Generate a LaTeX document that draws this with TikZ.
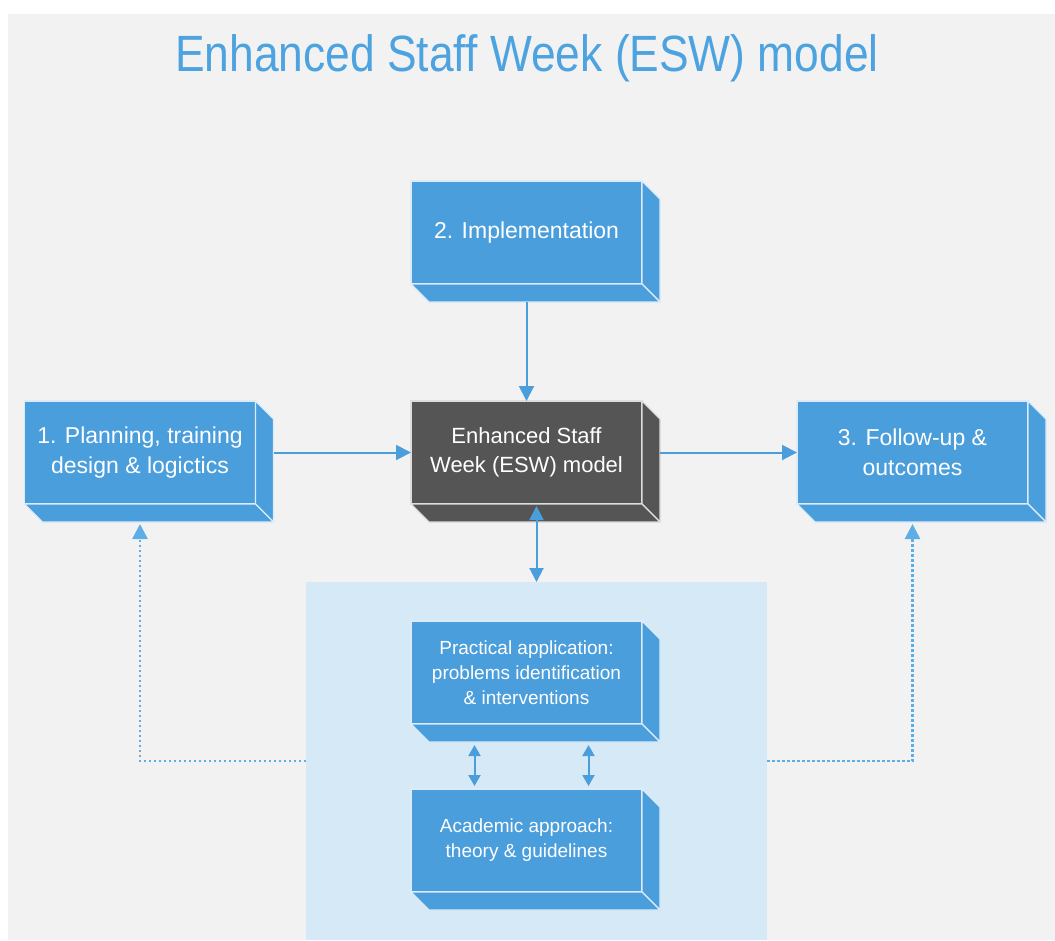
\documentclass[tikz,border=0pt]{standalone}
\usepackage{fontspec}
\setmainfont{Liberation Sans}
\newfontfamily\titlefont[FakeStretch=0.87]{Liberation Sans}
\usetikzlibrary{arrows.meta}

\definecolor{eswblue}{HTML}{4A9EDC}
\definecolor{eswdark}{HTML}{555555}
\definecolor{eswback}{HTML}{F2F2F2}
\definecolor{eswpanel}{HTML}{D6E9F7}
\definecolor{eswtitle}{HTML}{4DA3E0}
\definecolor{eswdots}{HTML}{5DAEE6}

\newcommand{\topfont}{\fontsize{23}{29.5}\selectfont}
\newcommand{\midfont}{\fontsize{22}{29}\selectfont}
\newcommand{\lowfont}{\fontsize{19}{25}\selectfont}

\tikzset{
    slabface/.style={rectangle, fill=#1, draw=white!80!#1, line width=1.2pt,
        minimum width=231pt, minimum height=103pt, inner sep=0pt, outer sep=0pt,
        text=white, align=center},
    slabside/.style={fill=#1, draw=white!80!#1, line width=1.2pt, line join=round},
    link/.style={draw=eswblue, line width=2pt, -{Triangle[length=15pt, width=15pt]}},
    duo/.style={draw=eswblue, line width=2pt,
        {Triangle[length=14pt, width=14pt]}-{Triangle[length=14pt, width=14pt]}},
    feedback/.style={draw=eswdots, line width=2.5pt, dash pattern=on 2.5pt off 2.5pt,
        -{Triangle[length=15pt, width=15pt]}}
}

% A slab: front face with its text, then the right and bottom faces
\newcommand{\slab}[5][eswblue]{
    \node[slabface=#1, font=#4] (#2) at (#3) {#5};
    \filldraw[slabside=#1] (#2.north east) -- ([shift={(18,18)}]#2.north east)
        -- ([shift={(18,18)}]#2.south east) -- (#2.south east) -- cycle;
    \filldraw[slabside=#1] (#2.south west) -- (#2.south east)
        -- ([shift={(18,18)}]#2.south east) -- ([shift={(18,18)}]#2.south west) -- cycle;
}

\begin{document}
\begin{tikzpicture}[x=1pt, y=-1pt]

    % Page and grey background
    \fill[white] (0,0) rectangle (1055,940);
    \useasboundingbox (0,0) rectangle (1055,940);
    \fill[eswback] (8,14) rectangle (1055,940);

    % Title
    \node[font=\titlefont\fontsize{51}{60}\selectfont, text=eswtitle] (title) at (527,58)
        {Enhanced Staff Week (ESW) model};

    % Light panel behind the two lower slabs
    \node[fill=eswpanel, minimum width=461pt, minimum height=358pt, inner sep=0pt,
        outer sep=0pt] (panel) at (536.5,761) {};

    % Slabs
    \slab{impl}{526.5,232.5}{\topfont}{2. Implementation}
    \slab{plan}{140,452.5}{\topfont}{1. Planning, training\\design \& logictics}
    \slab[eswdark]{esw}{526.5,452.5}{\midfont}{Enhanced Staff\\Week (ESW) model}
    \slab{follow}{912.5,452.5}{\topfont}{3. Follow-up \&\\outcomes}
    \slab{prac}{526.5,672.5}{\lowfont}{Practical application:\\problems identification\\\& interventions}
    \slab{acad}{526.5,840.5}{\lowfont}{Academic approach:\\theory \& guidelines}

    % Connectors into and out of the model
    \draw[link] ([yshift=-18pt]impl.south) -- (esw.north);
    \draw[link] ([xshift=18pt]plan.east) -- (esw.west);
    \draw[link] ([xshift=18pt]esw.east) -- (follow.west);
    \draw[duo] ([yshift=-2pt]esw.south -| panel.north) -- (panel.north);

    % Between practice and theory
    \draw[duo, {Triangle[length=11pt, width=12pt]}-{Triangle[length=11pt, width=12pt]}]
        ([xshift=-52pt, yshift=-21pt]prac.south) -- ([xshift=-52pt, yshift=3pt]acad.north);
    \draw[duo, {Triangle[length=11pt, width=12pt]}-{Triangle[length=11pt, width=12pt]}]
        ([xshift=62pt, yshift=-21pt]prac.south) -- ([xshift=62pt, yshift=3pt]acad.north);

    % Feedback to planning and follow-up
    \draw[feedback] (panel.west) -| ([yshift=-20pt]plan.south);
    \draw[feedback] (panel.east) -| ([yshift=-20pt]follow.south);

\end{tikzpicture}
\end{document}
